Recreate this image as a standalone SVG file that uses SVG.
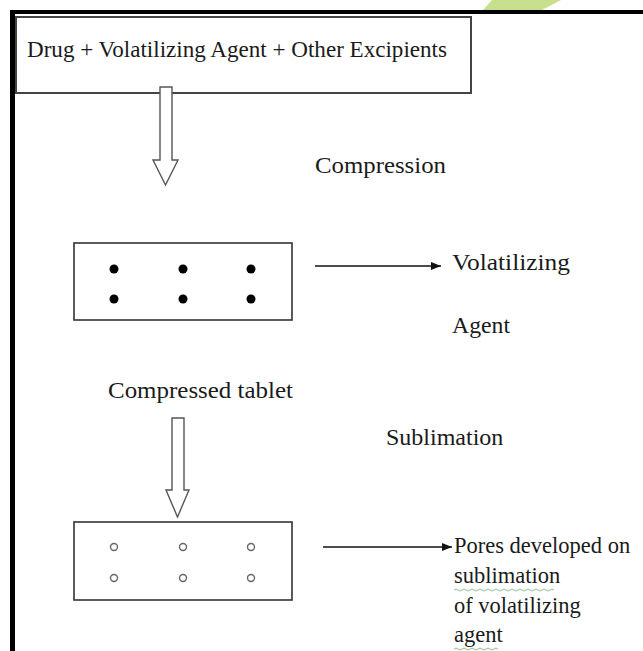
<svg xmlns="http://www.w3.org/2000/svg" width="643" height="651" viewBox="0 0 643 651">
<style>
.t{font-family:"Liberation Serif","Times New Roman",serif;fill:#1a1a1a;font-size:24px}
.p{font-family:"Liberation Serif","Times New Roman",serif;fill:#1a1a1a;font-size:22.5px}
.box{fill:#fff;stroke:#333;stroke-width:1.6}
.hollow{fill:#fff;stroke:#555;stroke-width:1.4;stroke-linejoin:miter}
.dot{fill:#000}
.pore{fill:#fff;stroke:#666;stroke-width:1.4}
.line{stroke:#111;stroke-width:1.6;fill:none}
.sq{fill:none;stroke:#8bbf8b;stroke-width:1}
</style>
<defs>
<marker id="ah" viewBox="0 0 10 10" refX="10" refY="5" markerWidth="10" markerHeight="10" markerUnits="userSpaceOnUse" orient="auto">
<path d="M0,1 L10,5 L0,9 Z" fill="#111"/>
</marker>
</defs>
<rect width="643" height="651" fill="#fff"/>
<polygon points="492,0 561,0 542,10 483,10" fill="#c8e08e"/>
<g id="frame">
<line x1="10" y1="12" x2="643" y2="12" stroke="#000" stroke-width="4"/>
<line x1="12.5" y1="10" x2="12.5" y2="651" stroke="#000" stroke-width="5"/>
</g>
<g id="ingredients">
<rect x="16" y="17" width="455" height="76" fill="#fff" stroke="#444" stroke-width="2"/>
<text class="t" x="27" y="57" font-size="25" textLength="420" lengthAdjust="spacingAndGlyphs">Drug + Volatilizing Agent + Other Excipients</text>
</g>
<g id="connectors">
<path class="hollow" d="M160,87 H172 V160 H178 L165.5,185 L153,160 H160 Z"/>
<path class="hollow" d="M172,418 H184 V490 H189 L177.5,517 L166,490 H172 Z"/>
<line class="line" x1="315" y1="266" x2="441" y2="266" marker-end="url(#ah)"/>
<line class="line" x1="323" y1="547" x2="452" y2="547" marker-end="url(#ah)"/>
</g>
<g id="compression-label">
<text class="t" x="315" y="173" textLength="131" lengthAdjust="spacingAndGlyphs">Compression</text>
</g>
<g id="compressed-tablet">
<rect class="box" x="74" y="243" width="218" height="77"/>
<circle class="dot" cx="114" cy="269" r="4.5"/>
<circle class="dot" cx="183" cy="269" r="4.5"/>
<circle class="dot" cx="251" cy="269" r="4.5"/>
<circle class="dot" cx="114" cy="299" r="4.5"/>
<circle class="dot" cx="183" cy="299" r="4.5"/>
<circle class="dot" cx="251" cy="299" r="4.5"/>
<text class="t" x="108" y="398" textLength="185" lengthAdjust="spacingAndGlyphs">Compressed tablet</text>
</g>
<g id="volatilizing-agent">
<text class="t" x="452" y="270" textLength="118" lengthAdjust="spacingAndGlyphs">Volatilizing</text>
<text class="t" x="452" y="333" textLength="58" lengthAdjust="spacingAndGlyphs">Agent</text>
</g>
<g id="sublimation-label">
<text class="t" x="386" y="445" font-size="22">Sublimation</text>
</g>
<g id="porous-tablet">
<rect class="box" x="74" y="522" width="218" height="78"/>
<circle class="pore" cx="114" cy="547" r="3.5"/>
<circle class="pore" cx="183" cy="547" r="3.5"/>
<circle class="pore" cx="251" cy="547" r="3.5"/>
<circle class="pore" cx="114" cy="578" r="3.5"/>
<circle class="pore" cx="183" cy="578" r="3.5"/>
<circle class="pore" cx="251" cy="578" r="3.5"/>
</g>
<g id="pores-label">
<text class="p" x="454" y="553">Pores developed on</text>
<text class="p" x="454" y="583">sublimation</text>
<path class="sq" d="M454,590 q2,-2 4,0 t4,0 t4,0 t4,0 t4,0 t4,0 t4,0 t4,0 t4,0 t4,0 t4,0 t4,0 t4,0 t4,0 t4,0 t4,0 t4,0 t4,0 t4,0 t4,0 t4,0 t4,0 t4,0 t4,0 t4,0"/>
<text class="p" x="454" y="613">of volatilizing</text>
<text class="p" x="454" y="642">agent</text>
<path class="sq" d="M454,649 q2,-2 4,0 t4,0 t4,0 t4,0 t4,0 t4,0 t4,0 t4,0 t4,0 t4,0 t4,0"/>
</g>
</svg>
